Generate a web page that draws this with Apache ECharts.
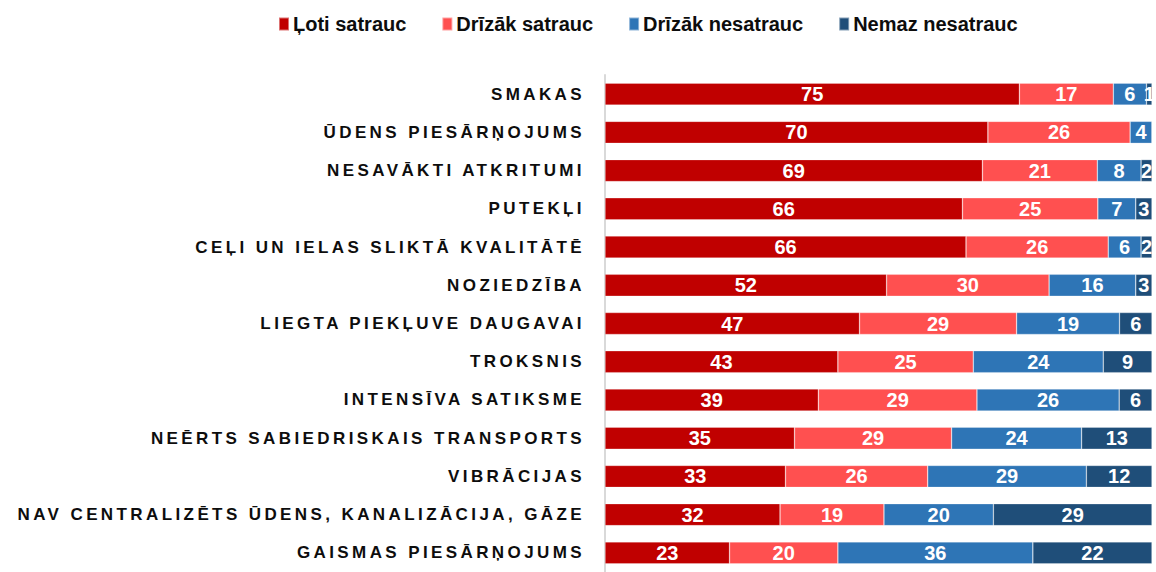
<!DOCTYPE html>
<html>
<head>
<meta charset="utf-8">
<script src="https://cdn.jsdelivr.net/npm/echarts@6/dist/echarts.min.js"></script>
<style>
  html, body { margin: 0; padding: 0; background: #fff; }
  #chart { width: 1156px; height: 572px; }
</style>
</head>
<body>
<div id="chart"></div>
<script>
const categories = [
    'SMAKAS', 'ŪDENS PIESĀRŅOJUMS', 'NESAVĀKTI ATKRITUMI', 'PUTEKĻI',
    'CEĻI UN IELAS SLIKTĀ KVALITĀTĒ', 'NOZIEDZĪBA', 'LIEGTA PIEKĻUVE DAUGAVAI',
    'TROKSNIS', 'INTENSĪVA SATIKSME', 'NEĒRTS SABIEDRISKAIS TRANSPORTS',
    'VIBRĀCIJAS', 'NAV CENTRALIZĒTS ŪDENS, KANALIZĀCIJA, GĀZE', 'GAISMAS PIESĀRŅOJUMS'
];
const seriesNames = ['Ļoti satrauc', 'Drīzāk satrauc', 'Drīzāk nesatrauc', 'Nemaz nesatrauc'];
const veryConcerned   = [75, 70, 69, 66, 66, 52, 47, 43, 39, 35, 33, 32, 23];
const ratherConcerned = [17, 26, 21, 25, 26, 30, 29, 25, 29, 29, 26, 19, 20];
const ratherNot       = [6, 4, 8, 7, 6, 16, 19, 24, 26, 24, 29, 20, 36];
const notAtAll        = [1, 0, 2, 3, 2, 3, 6, 9, 6, 13, 12, 29, 22];
const colors = ['#C00000', '#FF5050', '#2E75B6', '#1F4E79'];

const valueSets = [veryConcerned, ratherConcerned, ratherNot, notAtAll];
// 100% stacked: each row scaled to its own total
const totals = categories.map((c, i) => valueSets.reduce((s, arr) => s + arr[i], 0));

const narrow = '"Liberation Sans Narrow", "Arial Narrow", "Liberation Sans", Arial, sans-serif';

const chart = echarts.init(document.getElementById('chart'), null, { renderer: 'svg' });
chart.setOption({
    animation: false,
    legend: {
        left: 273,
        top: 9,
        itemWidth: 10,
        itemHeight: 13,
        itemGap: 35,
        icon: 'rect',
        textStyle: { fontFamily: narrow, fontWeight: 'bold', fontSize: 20, color: '#0d0d0d', padding: [0, 0, 0, -1] },
        data: seriesNames
    },
    grid: { left: 605, right: 4, top: 75, bottom: -8 },
    xAxis: { type: 'value', min: 0, max: 100, show: false },
    yAxis: {
        type: 'category',
        inverse: true,
        data: categories,
        axisLine: { show: true, lineStyle: { color: '#d9d9d9', width: 2 } },
        axisTick: { show: false },
        axisLabel: {
            margin: 20,
            fontFamily: '"Liberation Sans", Arial, sans-serif',
            fontWeight: 'bold',
            fontSize: 17,
            color: '#0d0d0d'
        }
    },
    series: valueSets.map((arr, k) => ({
        name: seriesNames[k],
        type: 'bar',
        stack: 'all',
        barWidth: 22,
        itemStyle: { color: colors[k], borderColor: 'rgba(255,255,255,0.45)', borderWidth: 0.6 },
        label: {
            show: true,
            position: 'inside',
            color: '#fff',
            fontFamily: narrow,
            fontWeight: 'bold',
            fontSize: 20,
            formatter: p => arr[p.dataIndex] > 0 ? String(arr[p.dataIndex]) : ''
        },
        data: arr.map((v, i) => v / totals[i] * 100)
    }))
});

// wide letter spacing on the category names
function spaceLabels() {
    document.querySelectorAll('#chart text').forEach(t => {
        if (categories.includes(t.textContent)) t.setAttribute('letter-spacing', '3.4');
    });
}
spaceLabels();
chart.on('finished', spaceLabels);
</script>
</body>
</html>
